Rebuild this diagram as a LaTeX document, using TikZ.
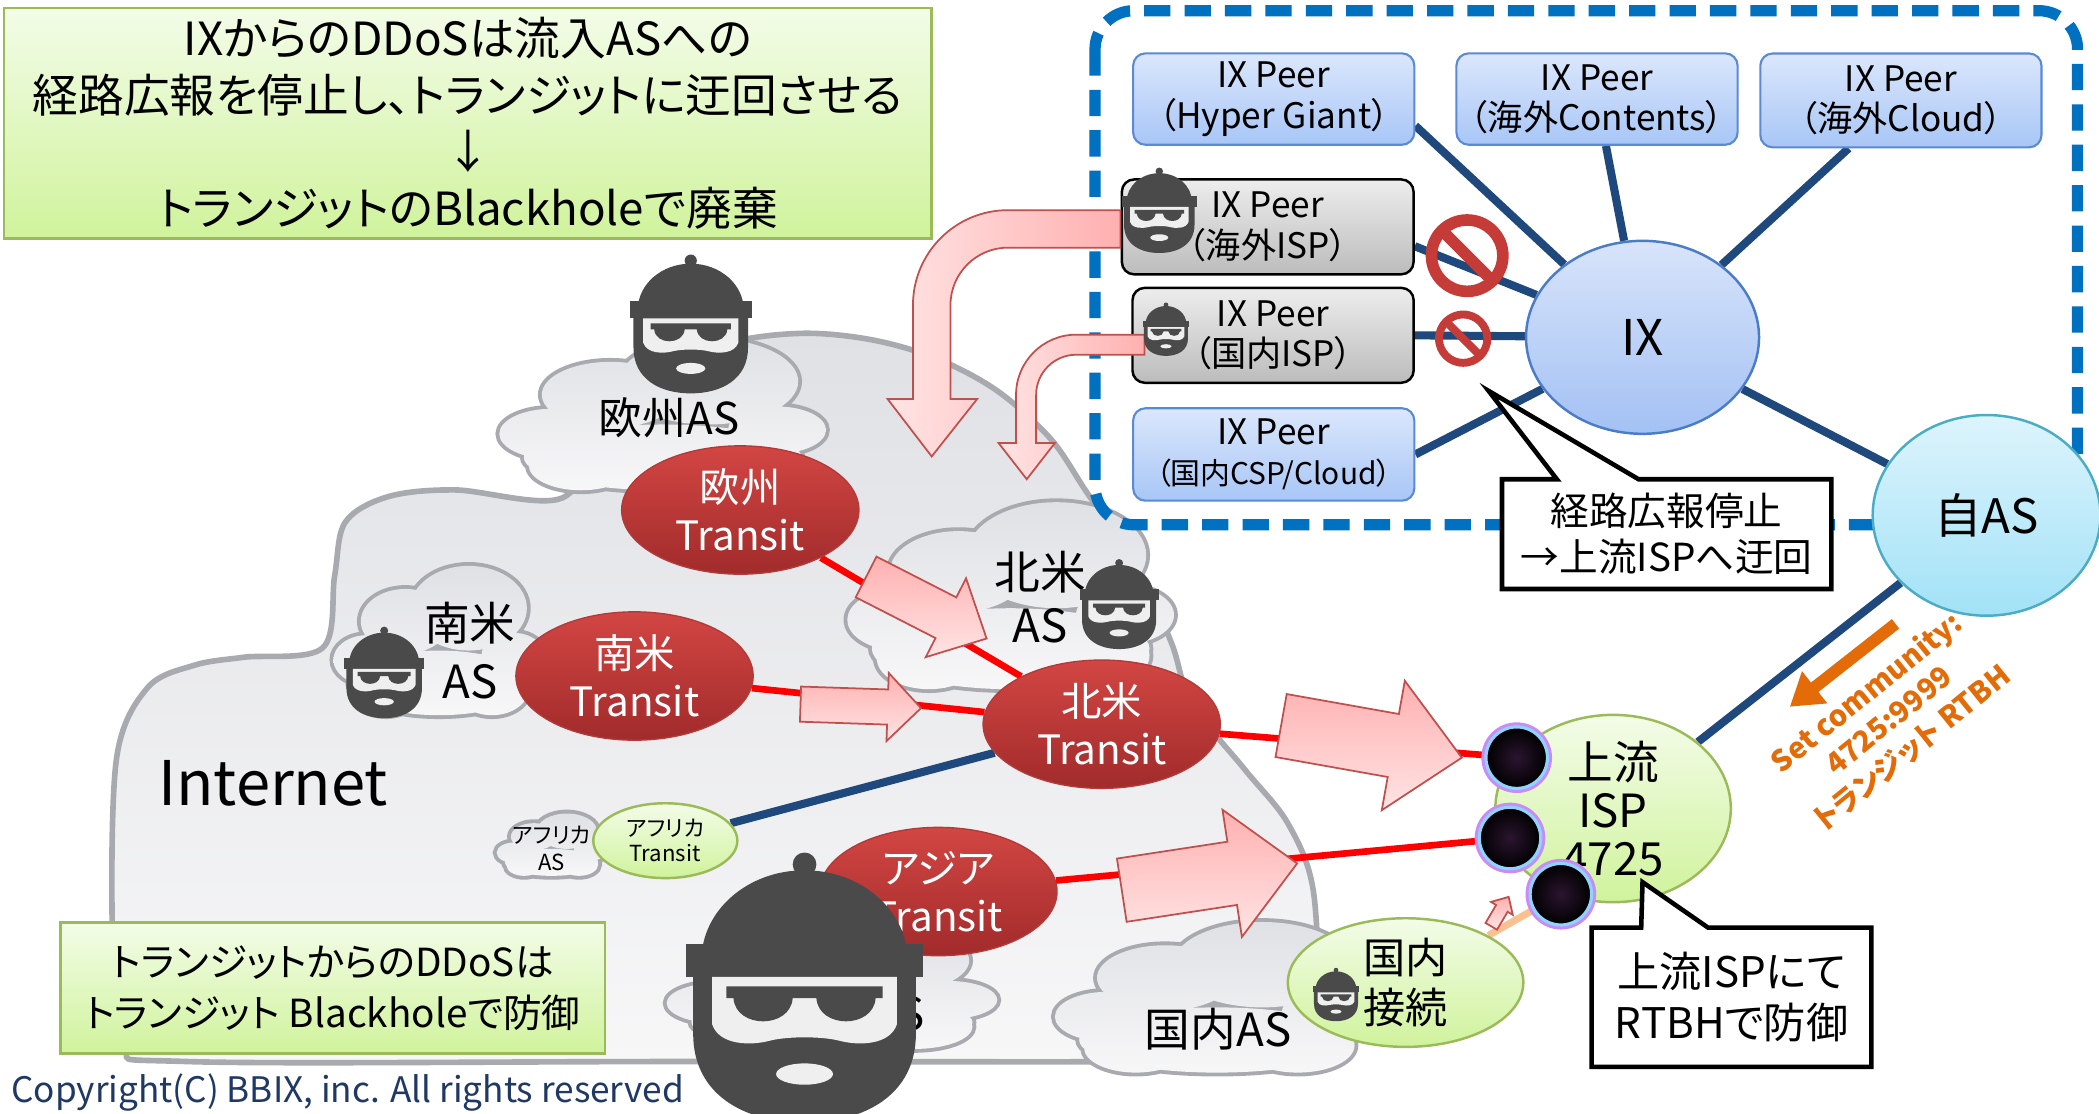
\documentclass[tikz,border=0pt]{standalone}
\usepackage{fontspec}
\setmainfont{Noto Sans CJK JP}[RawFeature=+palt]
\usetikzlibrary{shapes.geometric, calc, arrows.meta}

\pgfdeclarelayer{back}
\pgfdeclarelayer{mid}
\pgfsetlayers{back,mid,main}

% colours
\definecolor{linkblue}{HTML}{1F497D}
\definecolor{zoneblue}{HTML}{0070C0}
\definecolor{peertop}{HTML}{DBE7FC}
\definecolor{peerbot}{HTML}{A8C6F6}
\definecolor{peeredge}{HTML}{5A8AD6}
\definecolor{greytop}{HTML}{EDEDED}
\definecolor{greybot}{HTML}{BCBCBC}
\definecolor{ixtop}{HTML}{D8E4FA}
\definecolor{ixbot}{HTML}{A3C1F4}
\definecolor{ixedge}{HTML}{4A7CC9}
\definecolor{selftop}{HTML}{DDF4FC}
\definecolor{selfbot}{HTML}{A2E2F7}
\definecolor{selfedge}{HTML}{4BACC6}
\definecolor{greentop}{HTML}{F3FCE8}
\definecolor{greenbot}{HTML}{D0F39C}
\definecolor{greenedge}{HTML}{9BBB59}
\definecolor{redtop}{HTML}{D24643}
\definecolor{redbot}{HTML}{A12B2B}
\definecolor{rededge}{HTML}{B23B39}
\definecolor{cloudtop}{HTML}{E0E1E5}
\definecolor{cloudbot}{HTML}{F7F7F8}
\definecolor{cloudedge}{HTML}{A8AAB0}
\definecolor{pinklight}{HTML}{FFE4E4}
\definecolor{pinkdeep}{HTML}{FFB0B0}
\definecolor{arrowedge}{HTML}{C0504D}
\definecolor{peach}{HTML}{FAC090}
\definecolor{hackdark}{HTML}{4A4A4A}
\definecolor{hackface}{HTML}{EFEFEF}
\definecolor{nogored}{HTML}{C43B38}
\definecolor{bhcore}{HTML}{2B1530}
\definecolor{bhrim}{HTML}{8FD3FF}
\definecolor{bhhalo}{HTML}{C98BF5}
\definecolor{rtbhorange}{HTML}{E36C09}
\definecolor{copynavy}{HTML}{1F3864}

% fat pink arrow: tail, tip, shaft half width, head half width, head length
\newcommand{\fatarrow}[5]{%
  \coordinate (fa-base) at ($(#2)!#5!(#1)$);
  \shadedraw[pinkarrow] ($(#1)!#3!90:(#2)$) -- ($(fa-base)!#3!-90:(#1)$)
    -- ($(fa-base)!#4!-90:(#1)$) -- (#2) -- ($(fa-base)!#4!90:(#1)$)
    -- ($(fa-base)!#3!90:(#1)$) -- ($(#1)!#3!-90:(#2)$) -- cycle;}

\tikzset{
  zone/.style={draw=zoneblue, line width=3.2pt, dash pattern=on 7.5pt off 4pt, rounded corners=11pt},
  peer/.style={rectangle, rounded corners=3.5pt, minimum width=80pt, minimum height=26pt,
    inner sep=1pt, align=center, top color=peertop, bottom color=peerbot, draw=peeredge,
    line width=0.6pt, font=\fontsize{10}{11.5}\selectfont},
  badpeer/.style={peer, top color=greytop, bottom color=greybot, draw=black, line width=0.7pt},
  transit/.style={ellipse, inner sep=-4pt, minimum width=67.5pt, minimum height=36.5pt,
    top color=redtop, bottom color=redbot, draw=rededge, line width=0.4pt, text=white,
    align=center, font=\fontsize{11.5}{13.7}\selectfont},
  greenball/.style={ellipse, inner sep=-4pt, top color=greentop, bottom color=greenbot,
    draw=greenedge, line width=0.7pt, align=center},
  blackhole/.style={circle, minimum size=17.5pt, inner sep=0pt, inner color=bhcore,
    outer color=black, draw=bhrim, line width=0.9pt, preaction={draw=bhhalo, line width=2.6pt}},
  bluelink/.style={draw=linkblue, line width=2.3pt},
  redlink/.style={draw=red, line width=1.9pt},
  peachlink/.style={draw=peach, line width=2pt},
  pinkarrow/.style={draw=arrowedge, line width=0.5pt, top color=pinkdeep, bottom color=pinklight},
  bentarrow/.style={draw=arrowedge, line width=0.5pt, left color=pinklight, right color=pinkdeep},
  note/.style={rectangle, inner sep=0pt, align=center, top color=greentop, bottom color=greenbot,
    draw=greenedge, line width=0.8pt},
  callout/.style={draw=black, fill=white, line width=1.3pt},
  aslabel/.style={align=center, font=\fontsize{13}{15}\selectfont},
  ascloud/.pic={
    \shade[top color=cloudtop, bottom color=cloudbot, preaction={draw=cloudedge, line width=2.2pt}]
      (0,0.55) ellipse [x radius=0.85, y radius=0.42]
      (-0.68,0.25) circle [radius=0.32]
      (-0.32,-0.25) circle [radius=0.42]
      (0.28,-0.42) circle [radius=0.55]
      (0.7,0.2) circle [radius=0.3]
      (0.5,0.62) circle [radius=0.35]
      (-0.5,0.65) circle [radius=0.32];
  },
  hacker/.pic={
    % beanie
    \fill[hackdark] (0,-0.93) circle [radius=0.1];
    \fill[hackdark] (-0.87,-0.12) arc[start angle=180, end angle=360, x radius=0.87, y radius=0.76] -- cycle;
    \fill[hackdark] (-1,-0.26) rectangle (1,0.02);
    % head and beard
    \fill[hackdark] (-0.94,0) -- (-0.94,0.5) .. controls (-0.94,1.02) and (-0.5,1.25) .. (0,1.25)
      .. controls (0.5,1.25) and (0.94,1.02) .. (0.94,0.5) -- (0.94,0) -- cycle;
    \fill[hackface] (-0.78,0.02) -- (-0.78,0.42) .. controls (-0.72,0.6) and (-0.45,0.6) .. (-0.3,0.56)
      .. controls (-0.15,0.52) and (0.15,0.52) .. (0.3,0.56) .. controls (0.45,0.6) and (0.72,0.6) .. (0.78,0.42)
      -- (0.78,0.02) -- cycle;
    % sunglasses
    \fill[hackdark] (-0.66,0.1) -- (0.66,0.1) -- (0.66,0.2) -- (0.6,0.2) .. controls (0.58,0.46) and (0.12,0.46) .. (0.1,0.2)
      -- (-0.1,0.2) .. controls (-0.12,0.46) and (-0.58,0.46) .. (-0.6,0.2) -- (-0.66,0.2) -- cycle;
    % mouth
    \fill[hackface] (0,0.84) ellipse [x radius=0.24, y radius=0.09];
  },
  nogo/.pic={
    \fill[nogored, even odd rule] (0,0) circle [radius=1] (0,0) circle [radius=0.72];
    \fill[nogored] (-0.665,-0.467) -- (-0.467,-0.665) -- (0.665,0.467) -- (0.467,0.665) -- cycle;
  }
}

\begin{document}
\begin{tikzpicture}[x=0.13387mm, y=-0.13387mm]
\useasboundingbox (0,0) rectangle (1568,832);

% clouds
\begin{pgfonlayer}{back}
  \fill[white] (0,0) rectangle (1568,832);
  \shadedraw[draw=cloudedge, line width=1.6pt, top color=cloudtop, bottom color=cloudbot]
    plot[smooth cycle, tension=0.55] coordinates {
      (84,700) (87,567) (110,514) (145,497) (182,491) (241,484) (250,430) (258,390)
      (290,371) (340,366) (420,372) (450,320) (495,278) (545,256) (600,249) (652,254)
      (700,268) (745,292) (785,328) (812,368) (848,420) (875,480) (890,525) (930,575)
      (962,615) (981,665) (984,755) (970,790) (880,793) (500,793) (140,793) (92,780)};
  \pic[xscale=122, yscale=58.5] at (495,309.5) {ascloud};
  \pic[xscale=79, yscale=57.5] at (328,478.5) {ascloud};
  \pic[xscale=122, yscale=72] at (755,445) {ascloud};
  \pic[xscale=41, yscale=24] at (412,631) {ascloud};
  \pic[xscale=123.5, yscale=47.5] at (621.5,737.5) {ascloud};
  \pic[xscale=121, yscale=58] at (909,745) {ascloud};
\end{pgfonlayer}

% IX side
\node[peer] (hg) at (951.5,74) {IX Peer\\（Hyper Giant）};
\node[peer] (ct) at (1193,74) {IX Peer\\（海外Contents）};
\node[peer, minimum height=26.7pt] (cl) at (1420,75) {IX Peer\\（海外Cloud）};
\node[badpeer, minimum width=83pt, minimum height=27pt] (oisp) at (947,169.5) {IX Peer\\（海外ISP）};
\node[badpeer, minimum height=27pt] (disp) at (951,250.5) {IX Peer\\（国内ISP）};
\node[peer, minimum height=26.3pt] (csp) at (951.5,339.5) {IX Peer\\{\fontsize{8.5}{10}\selectfont（国内CSP/Cloud）}};
\node[ellipse, minimum width=66.3pt, minimum height=54.9pt, top color=ixtop, bottom color=ixbot,
  draw=ixedge, line width=0.7pt, font=\fontsize{14}{16}\selectfont] (ix) at (1227,252) {IX};
\node[ellipse, minimum width=64.8pt, minimum height=57.1pt, top color=selftop, bottom color=selfbot,
  draw=selfedge, line width=0.7pt, font=\fontsize{13.5}{16}\selectfont] (self) at (1484,385) {自AS};

% transit side
\node[transit] (eu) at (553,381) {欧州\\Transit};
\node[transit] (sa) at (474,505) {南米\\Transit};
\node[transit] (na) at (823,541) {北米\\Transit};
\node[transit] (asia) at (701,666) {アジア\\Transit};
\node[greenball, minimum width=41pt, minimum height=21.3pt, inner sep=-2pt,
  font=\fontsize{6.3}{7.2}\selectfont] (afr) at (497,628) {アフリカ\\Transit};
\node[greenball, minimum width=67pt, minimum height=53.3pt, font=\fontsize{13}{13.7}\selectfont]
  (up) at (1205,604) {上流\\ISP\\4725};
\node[greenball, minimum width=67pt, minimum height=36.6pt, font=\fontsize{12}{14}\selectfont]
  (dom) at (1050,734) {国内\\接続};

\node[blackhole] (bh1) at (1133,566) {};
\node[blackhole] (bh2) at (1128,626) {};
\node[blackhole] (bh3) at (1166,668) {};

% links
\begin{pgfonlayer}{mid}
  \draw[zone] (818,8) rectangle (1552,392);
  \draw[bluelink] ([yshift=-7.6pt]hg.east) -- (ix);
  \draw[bluelink] (ct) -- (ix);
  \draw[bluelink] (cl) -- (ix);
  \draw[bluelink] ([yshift=-5.5pt]oisp.east) -- (ix);
  \draw[bluelink] (disp.east) -- (ix);
  \draw[bluelink] (csp.east) -- (ix);
  \draw[bluelink] (ix) -- (self);
  \draw[bluelink] (self) -- (up);
  \draw[bluelink] (afr) -- (na);
  \draw[redlink] (eu) -- (na);
  \draw[redlink] (sa) -- (na);
  \draw[redlink] (na) -- (bh1);
  \draw[redlink] (asia) -- (bh2);
  \draw[peachlink] (dom) -- (bh3);
\end{pgfonlayer}

% traffic arrows
\coordinate (eu-a) at (647,431);   \coordinate (eu-b) at (737,477);
\coordinate (sa-a) at (598,526);   \coordinate (sa-b) at (688,529);
\coordinate (na-a) at (957,542);   \coordinate (na-b) at (1092,566);
\coordinate (as-a) at (838,665);   \coordinate (as-b) at (969,645);
\coordinate (dm-a) at (1114,692);  \coordinate (dm-b) at (1127,670);
\fatarrow{eu-a}{eu-b}{6.5pt}{12.6pt}{13pt}
\fatarrow{sa-a}{sa-b}{5pt}{9.7pt}{9.5pt}
\fatarrow{na-a}{na-b}{9.1pt}{18.7pt}{19.8pt}
\fatarrow{as-a}{as-b}{9.1pt}{18.3pt}{18.7pt}
\fatarrow{dm-a}{dm-b}{1.9pt}{3.6pt}{3.8pt}
\shadedraw[bentarrow] (837,157) -- (753,157) arc[start angle=270, end angle=180, radius=71]
  -- (682,298) -- (663,298) -- (696,341) -- (730,298) -- (710,298) -- (710,228)
  arc[start angle=180, end angle=270, radius=43] -- (837,185) -- cycle;
\shadedraw[bentarrow] (855,250) -- (804,250) arc[start angle=270, end angle=180, radius=45]
  -- (759,331) -- (746,331) -- (767,358) -- (788,331) -- (774,331) -- (774,295)
  arc[start angle=180, end angle=270, radius=30] -- (855,265) -- cycle;

% AS names
\node[aslabel, font=\fontsize{12.5}{15}\selectfont] (eu-as) at (500,312) {欧州AS};
\node[aslabel, font=\fontsize{13}{16.4}\selectfont] (sa-as) at (351,486) {南米\\AS};
\node[aslabel, font=\fontsize{13}{14.9}\selectfont] (na-as) at (777,446) {北米\\AS};
\node[aslabel] (dom-as) at (910,769) {国内AS};
\node[aslabel] (asia-as) at (620,757) {Asia東AS};
\node[align=center, font=\fontsize{6.3}{7.6}\selectfont] (afr-as) at (412,634) {アフリカ\\AS};
\node[font=\fontsize{17.5}{20}\selectfont] (inet) at (204,585) {Internet};

% attackers
\pic[scale=45.5] at (516,237) {hacker};
\pic[scale=30] at (287,499) {hacker};
\pic[scale=29.5] at (836,448) {hacker};
\pic[scale=28] at (866,154) {hacker};
\pic[scale=17.5] at (871,244) {hacker};
\pic[scale=17.5] at (998,741) {hacker};
\pic[scale=88.5] at (601,728) {hacker};

% withdrawn routes
\pic[scale=31] at (1096,191) {nogo};
\pic[scale=21] at (1093,253) {nogo};

% callouts
\coordinate (stop-nw) at (1122,358); \coordinate (stop-se) at (1368,440);
\coordinate (stop-tip) at (1112,292);
\draw[callout] (stop-nw) -- ++(41,0) -- (stop-tip) -- ($(stop-nw)+(102,0)$) -- (stop-nw -| stop-se)
  -- (stop-se) -- (stop-se -| stop-nw) -- cycle;
\node[align=center, font=\fontsize{11}{13}\selectfont] (stop) at ($(stop-nw)!0.5!(stop-se)$)
  {経路広報停止\\→上流ISPへ迂回};

\coordinate (rtbh-nw) at (1189,693); \coordinate (rtbh-se) at (1398,797);
\coordinate (rtbh-tip) at (1227,659);
\draw[callout] (rtbh-nw) -- ++(37,0) -- (rtbh-tip) -- ($(rtbh-nw)+(87,0)$) -- (rtbh-nw -| rtbh-se)
  -- (rtbh-se) -- (rtbh-se -| rtbh-nw) -- cycle;
\node[align=center, font=\fontsize{12}{14.5}\selectfont] (defend) at ($(rtbh-nw)!0.5!(rtbh-se)$)
  {上流ISPにて\\RTBHで防御};

% community tagging
\coordinate (comm-s) at (1416,466); \coordinate (comm-e) at (1337,528);
\draw[rtbhorange, line width=3.4pt, -{Triangle[length=9pt, width=11pt]}] (comm-s) -- (comm-e);
\node[text=rtbhorange, rotate=39, align=center, font=\bfseries\fontsize{8.3}{10.2}\selectfont]
  (comm) at (1411,538) {Set community:\\4725:9999\\トランジット RTBH};

% notes
\node[note, minimum width=264pt, minimum height=65.5pt, font=\fontsize{13}{16.1}\selectfont]
  (ixnote) at (349.5,92)
  {IXからのDDoSは流入ASへの\\経路広報を停止し、トランジットに迂回させる\\↓\\トランジットのBlackholeで廃棄};
\node[note, minimum width=155pt, minimum height=37.3pt, font=\fontsize{11}{14.5}\selectfont]
  (trnote) at (248.5,738) {トランジットからのDDoSは\\トランジット Blackholeで防御};
\node[anchor=west, inner sep=0pt, text=copynavy, font=\fontsize{10}{12}\selectfont]
  (copy) at (8,816) {Copyright(C) BBIX, inc. All rights reserved};
\end{tikzpicture}
\end{document}
